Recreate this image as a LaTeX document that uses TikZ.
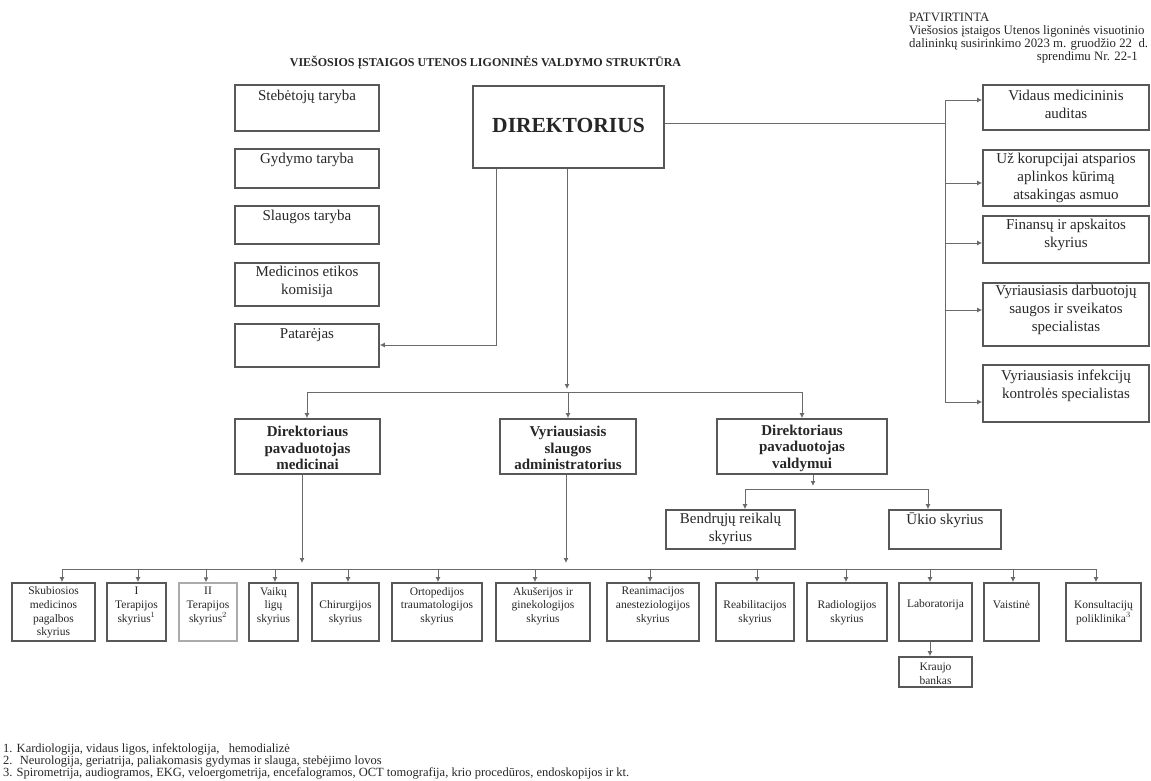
\documentclass[tikz,border=0pt]{standalone}
\usepackage{fontspec}
\setmainfont{Liberation Serif}
\usetikzlibrary{arrows.meta,fit}
\definecolor{boxc}{HTML}{585858}
\definecolor{lboxc}{HTML}{ABABAB}
\definecolor{linec}{HTML}{6A6A6A}
\definecolor{txtc}{HTML}{262626}
\newcommand{\obox}[5]{\node[bx, fit={(#2,#3) (#4,#5)}] (#1) {};}
\begin{document}
\begin{tikzpicture}[x=1pt,y=-1pt,
  bx/.style={draw=boxc, line width=1.7pt, inner sep=0pt},
  con/.style={draw=linec, line width=0.9pt},
  arr/.style={con, -{Latex[length=5pt,width=5pt]}},
  tf/.style={text=txtc, align=center, inner sep=0pt, font=\fontsize{15}{18}\selectfont},
  tb/.style={text=txtc, align=center, inner sep=0pt, font=\fontsize{15}{16.5}\selectfont\bfseries},
  ts/.style={text=txtc, align=center, inner sep=0pt, font=\fontsize{11.5}{13.7}\selectfont},
  th/.style={text=txtc, inner sep=0pt, font=\fontsize{12.8}{14}\selectfont},
  tn/.style={text=txtc, inner sep=0pt, font=\fontsize{12.5}{13}\selectfont},
]
\useasboundingbox (0,0) rectangle (1151,780);

% header
\node[th, anchor=west] (h1) at (909,17) {PATVIRTINTA};
\node[th, anchor=west] (h2) at (909,31) {Viešosios įstaigos Utenos ligoninės visuotinio};
\node[th, anchor=west] (h3) at (909,44) {dalininkų susirinkimo 2023 m. gruodžio 22 \ d.};
\node[th, anchor=east] (h4) at (1138,57) {sprendimu Nr. 22-1};
\node[text=txtc, inner sep=0pt, font=\fontsize{12}{14}\selectfont\bfseries] (title) at (485.5,63) {VIEŠOSIOS ĮSTAIGOS UTENOS LIGONINĖS VALDYMO STRUKTŪRA};

% left boxes
\obox{l1}{235}{85}{379}{131}
\obox{l2}{235}{149}{379}{188}
\obox{l3}{235}{206}{379}{244}
\obox{l4}{235}{263}{379}{306}
\obox{l5}{235}{324}{379}{367}
\node[tf] (l1t) at (307,97) {Stebėtojų taryba};
\node[tf] (l2t) at (307,160) {Gydymo taryba};
\node[tf] (l3t) at (307,217) {Slaugos taryba};
\node[tf] (l4t) at (307,282) {Medicinos etikos\\komisija};
\node[tf] (l5t) at (307,335) {Patarėjas};

% director
\obox{dir}{473}{86}{664}{168}
\node[text=txtc, inner sep=0pt, font=\fontsize{21.5}{24}\selectfont\bfseries] (dirt) at (568.5,125) {DIREKTORIUS};

% right boxes
\obox{r1}{983}{85}{1149}{130}
\obox{r2}{983}{150}{1149}{206}
\obox{r3}{983}{216}{1149}{263}
\obox{r4}{983}{283}{1149}{346}
\obox{r5}{983}{365}{1149}{422}
\node[tf] (r1t) at (1066,104) {Vidaus medicininis\\auditas};
\node[tf] (r2t) at (1066,178) {Už korupcijai atsparios\\aplinkos kūrimą\\atsakingas asmuo};
\node[tf] (r3t) at (1066,235) {Finansų ir apskaitos\\skyrius};
\node[tf] (r4t) at (1066,310) {Vyriausiasis darbuotojų\\saugos ir sveikatos\\specialistas};
\node[tf] (r5t) at (1066,386) {Vyriausiasis infekcijų\\kontrolės specialistas};

% right connectors
\coordinate (rj) at (945,123);
\coordinate (ra1) at (945,100);
\coordinate (ra2) at (945,183);
\coordinate (ra3) at (945,243);
\coordinate (ra4) at (945,310);
\coordinate (ra5) at (945,402);
\draw[con] (dir.east |- rj) -- (rj);
\draw[con] (ra1) -- (ra5);
\draw[arr] (ra1) -- (ra1 -| r1.west);
\draw[arr] (ra2) -- (ra2 -| r2.west);
\draw[arr] (ra3) -- (ra3 -| r3.west);
\draw[arr] (ra4) -- (ra4 -| r4.west);
\draw[arr] (ra5) -- (ra5 -| r5.west);

% patarejas connector
\coordinate (pj) at (496,345);
\draw[arr] (pj |- dir.south) -- (pj) -- (pj -| l5.east);

% middle level
\obox{m1}{235}{419}{380}{474}
\obox{m2}{500}{419}{636}{474}
\obox{m3}{717}{419}{887}{474}
\node[tb] (m1t) at (307.5,448) {Direktoriaus\\pavaduotojas\\medicinai};
\node[tb] (m2t) at (568,448) {Vyriausiasis\\slaugos\\administratorius};
\node[tb] (m3t) at (802,448) {Direktoriaus\\pavaduotojas\\valdymui};

\coordinate (dj) at (567,389);
\coordinate (busL) at (307,392);
\coordinate (busM) at (568,392);
\coordinate (busR) at (802,392);
\draw[arr] (dj |- dir.south) -- (dj);
\draw[con] (busL) -- (busR);
\draw[arr] (busL) -- (busL |- m1.north);
\draw[arr] (busM) -- (busM |- m2.north);
\draw[arr] (busR) -- (busR |- m3.north);

% valdymui sub
\obox{g1}{666}{510}{795}{549}
\obox{g2}{889}{510}{1001}{549}
\node[tf] (g1t) at (730.5,529) {Bendrųjų reikalų\\skyrius};
\node[tf] (g2t) at (945,520) {Ūkio skyrius};
\coordinate (vj) at (813,486);
\coordinate (vL) at (745,489);
\coordinate (vR) at (928,489);
\draw[arr] (vj |- m3.south) -- (vj);
\draw[con] (vL) -- (vR);
\draw[arr] (vL) -- (vL |- g1.north);
\draw[arr] (vR) -- (vR |- g2.north);

% bottom bus
\coordinate (d1) at (302,563);
\coordinate (d2) at (566,563);
\draw[arr] (d1 |- m1.south) -- (d1);
\draw[arr] (d2 |- m2.south) -- (d2);
\coordinate (bL) at (62,569);
\coordinate (bR) at (1096,569);
\draw[con] (bL) -- (bR);

% bottom boxes
\obox{s1}{12}{583}{95}{641}
\node[draw=lboxc, line width=1.4pt, inner sep=0pt, fit={(179,583) (237,641)}] (s3) {};
\obox{s2}{107}{583}{166}{641}
\obox{s4}{249}{583}{298}{641}
\obox{s5}{312}{583}{379}{641}
\obox{s6}{392}{583}{482}{641}
\obox{s7}{496}{583}{590}{641}
\obox{s8}{607}{583}{699}{641}
\obox{s9}{716}{583}{794}{641}
\obox{s10}{807}{583}{887}{641}
\obox{s11}{899}{583}{972}{641}
\obox{s12}{984}{583}{1039}{641}
\obox{s13}{1066}{583}{1141}{641}
\obox{kb}{899}{657}{972}{687}

\node[ts] (s1t) at (53.5,612.5) {Skubiosios\\medicinos\\pagalbos\\skyrius};
\node[ts] (s2t) at (136.5,606) {I\\Terapijos\\skyrius$^{1}$};
\node[ts] (s3t) at (208,606) {II\\Terapijos\\skyrius$^{2}$};
\node[ts] (s4t) at (273.5,606) {Vaikų\\ligų\\skyrius};
\node[ts] (s5t) at (345.5,612.5) {Chirurgijos\\skyrius};
\node[ts] (s6t) at (437,606) {Ortopedijos\\traumatologijos\\skyrius};
\node[ts] (s7t) at (543,606) {Akušerijos ir\\ginekologijos\\skyrius};
\node[ts] (s8t) at (653,606) {Reanimacijos\\anesteziologijos\\skyrius};
\node[ts] (s9t) at (755,612.5) {Reabilitacijos\\skyrius};
\node[ts] (s10t) at (847,612.5) {Radiologijos\\skyrius};
\node[ts] (s11t) at (935.5,605) {Laboratorija};
\node[ts] (s12t) at (1011.5,605) {Vaistinė};
\node[ts] (s13t) at (1103.5,612.5) {Konsultacijų\\poliklinika$^{3}$};
\node[ts] (kbt) at (935.5,673.5) {Kraujo\\bankas};

\foreach \xx/\nm in {62/s1,138/s2,206/s3,275/s4,348/s5,438/s6,535/s7,650/s8,757/s9,846/s10,930/s11,1013/s12,1096/s13}{
  \coordinate (a\nm) at (\xx,569);
  \draw[arr] (a\nm) -- (a\nm |- \nm.north);
}
\coordinate (lk) at (930,641);
\draw[arr] (lk) -- (lk |- kb.north);

% footnotes
\node[tn, anchor=west] (f1) at (3,749) {1. Kardiologija, vidaus ligos, infektologija, \ \ hemodializė};
\node[tn, anchor=west] (f2) at (3,761) {2. \ Neurologija, geriatrija, paliakomasis gydymas ir slauga, stebėjimo lovos};
\node[tn, anchor=west] (f3) at (3,773) {3. Spirometrija, audiogramos, EKG, veloergometrija, encefalogramos, OCT tomografija, krio procedūros, endoskopijos ir kt.};
\end{tikzpicture}
\end{document}
